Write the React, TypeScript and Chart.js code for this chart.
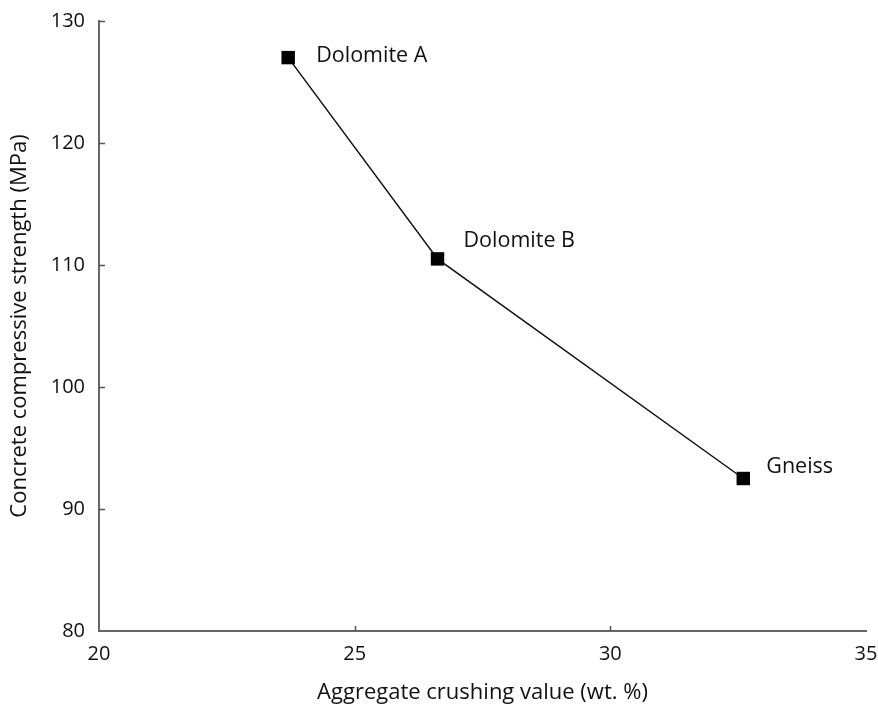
import React, { useEffect, useRef } from "react";
import { Chart, registerables } from "chart.js";

Chart.register(...registerables);

const aggregates = ["Dolomite A", "Dolomite B", "Gneiss"];
const crushingValue = [23.7, 26.62, 32.6];
const compressiveStrength = [127, 110.5, 92.5];
const xTicks = [20, 25, 30, 35];
const yTicks = [80, 90, 100, 110, 120, 130];

const FONT = "'Open Sans', Lato, sans-serif";
const labelOffsets = [
  { dx: 28, dy: -2 },
  { dx: 26, dy: -18 },
  { dx: 23, dy: -12 },
];

const overlayPlugin = {
  id: "overlay",
  afterDraw(chart: any) {
    const ctx = chart.ctx;
    const xs = chart.scales.x;
    const ys = chart.scales.y;
    const area = chart.chartArea;
    ctx.save();
    ctx.strokeStyle = "#555";
    ctx.lineWidth = 1.5;
    ctx.beginPath();
    for (const v of xTicks.slice(1, -1)) {
      const px = Math.round(xs.getPixelForValue(v)) + 0.5;
      ctx.moveTo(px, area.bottom);
      ctx.lineTo(px, area.bottom - 5);
    }
    for (const v of yTicks.slice(1)) {
      const py = Math.round(ys.getPixelForValue(v)) + 0.5;
      ctx.moveTo(area.left, py);
      ctx.lineTo(area.left + 6, py);
    }
    ctx.stroke();

    ctx.fillStyle = "#111";
    ctx.font = `21.5px ${FONT}`;
    ctx.textAlign = "left";
    ctx.textBaseline = "middle";
    aggregates.forEach((name, i) => {
      const px = xs.getPixelForValue(crushingValue[i]);
      const py = ys.getPixelForValue(compressiveStrength[i]);
      ctx.fillText(name, px + labelOffsets[i].dx, py + labelOffsets[i].dy);
    });
    ctx.restore();
  },
};

export default function App() {
  const ref = useRef<HTMLCanvasElement | null>(null);
  useEffect(() => {
    if (!ref.current) return;
    const chart = new Chart(ref.current, {
      type: "scatter",
      data: {
        datasets: [
          {
            data: crushingValue.map((x, i) => ({ x, y: compressiveStrength[i] })),
            showLine: true,
            borderColor: "#111",
            borderWidth: 1.5,
            pointStyle: "rect",
            pointRadius: 9.5,
            pointBackgroundColor: "#000",
            pointBorderColor: "#000",
            pointBorderWidth: 0,
          },
        ],
      },
      options: {
        animation: false,
        responsive: false,
        maintainAspectRatio: false,
        layout: { padding: { top: 21, right: 12, left: 0, bottom: 0 } },
        plugins: { legend: { display: false }, tooltip: { enabled: false } },
        scales: {
          x: {
            type: "linear",
            min: 20,
            max: 35,
            afterBuildTicks: (s: any) => {
              s.ticks = xTicks.map((v) => ({ value: v }));
            },
            afterFit: (s: any) => {
              s.height = 79;
              s.paddingLeft = 0;
              s.paddingRight = 0;
            },
            grid: { display: false, drawTicks: false },
            border: { display: true, color: "#666", width: 2 },
            ticks: {
              padding: 11,
              color: "#111",
              font: { family: FONT, size: 20 },
              maxRotation: 0,
            },
            title: {
              display: true,
              text: "Aggregate crushing value (wt. %)",
              color: "#111",
              font: { family: FONT, size: 22 },
              padding: { top: 6 },
            },
          },
          y: {
            type: "linear",
            min: 80,
            max: 130,
            afterBuildTicks: (s: any) => {
              s.ticks = yTicks.map((v) => ({ value: v }));
            },
            afterFit: (s: any) => {
              s.width = 99;
              s.paddingTop = 0;
              s.paddingBottom = 0;
            },
            grid: { display: false, drawTicks: false },
            border: { display: true, color: "#666", width: 2 },
            ticks: {
              padding: 14,
              color: "#111",
              font: { family: FONT, size: 20 },
            },
            title: {
              display: true,
              text: "Concrete compressive strength (MPa)",
              color: "#111",
              font: { family: FONT, size: 22 },
              padding: { top: 7, bottom: 0 },
            },
          },
        },
      },
      plugins: [overlayPlugin],
    });
    return () => chart.destroy();
  }, []);
  return (
    <div style={{ position: "fixed", left: 0, top: 0, width: 878, height: 710, background: "#fff" }}>
      <canvas ref={ref} width={878} height={710} style={{ width: 878, height: 710 }} />
    </div>
  );
}
